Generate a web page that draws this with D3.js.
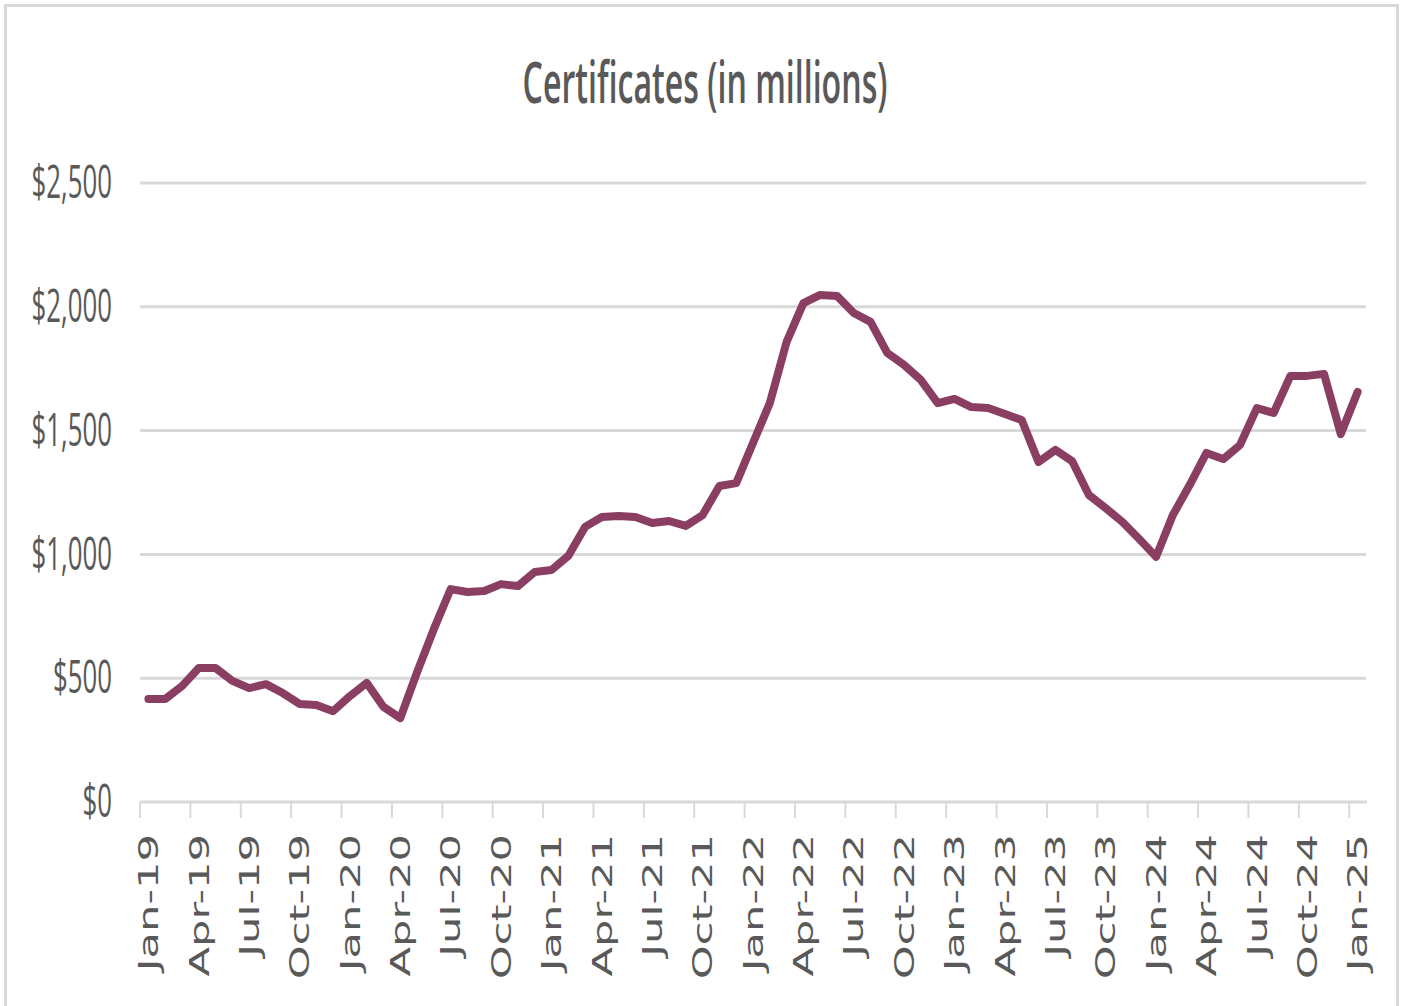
<!DOCTYPE html>
<html>
<head>
<meta charset="utf-8">
<script src="https://cdn.jsdelivr.net/npm/d3@7"></script>
<style>
  html, body { margin: 0; padding: 0; background: #ffffff; }
  svg { display: block; }
</style>
</head>
<body>
<svg id="chart" width="1409" height="1006"></svg>
<script>
// Monthly balances of certificates, Jan-19 through Jan-25 (in millions of dollars)
const months = [
  "Jan-19","Feb-19","Mar-19","Apr-19","May-19","Jun-19","Jul-19","Aug-19","Sep-19","Oct-19","Nov-19","Dec-19",
  "Jan-20","Feb-20","Mar-20","Apr-20","May-20","Jun-20","Jul-20","Aug-20","Sep-20","Oct-20","Nov-20","Dec-20",
  "Jan-21","Feb-21","Mar-21","Apr-21","May-21","Jun-21","Jul-21","Aug-21","Sep-21","Oct-21","Nov-21","Dec-21",
  "Jan-22","Feb-22","Mar-22","Apr-22","May-22","Jun-22","Jul-22","Aug-22","Sep-22","Oct-22","Nov-22","Dec-22",
  "Jan-23","Feb-23","Mar-23","Apr-23","May-23","Jun-23","Jul-23","Aug-23","Sep-23","Oct-23","Nov-23","Dec-23",
  "Jan-24","Feb-24","Mar-24","Apr-24","May-24","Jun-24","Jul-24","Aug-24","Sep-24","Oct-24","Nov-24","Dec-24",
  "Jan-25"
];

const certificates = [
  416, 416, 468, 541, 541, 489, 460, 476, 440, 396, 392, 367,
  428, 481, 384, 339, 525, 699, 860, 848, 852, 880, 872, 929,
  937, 994, 1111, 1151, 1155, 1151, 1127, 1135, 1115, 1159, 1276, 1288,
  1450, 1611, 1858, 2015, 2048, 2044, 1975, 1939, 1813, 1765, 1704, 1611,
  1628, 1595, 1591, 1567, 1543, 1373, 1422, 1377, 1240, 1187, 1131, 1062,
  990, 1159, 1280, 1410, 1385, 1442, 1591, 1571, 1721, 1721, 1729, 1486,
  1656
];

// Quarterly month labels shown on the category axis
const xTickLabels = months.filter((d, i) => i % 3 === 0);

// Value axis ticks
const yTicks = [0, 500, 1000, 1500, 2000, 2500];

const titleText = "Certificates (in millions)";

const svg = d3.select("#chart");
const grey = "#d9d9d9";
const textColor = "#595959";
const lineColor = "#8a3e62";

// Outer chart frame
svg.append("rect")
  .attr("x", 5.5).attr("y", 5.5)
  .attr("width", 1392).attr("height", 1010)
  .attr("fill", "#ffffff")
  .attr("stroke", grey)
  .attr("stroke-width", 3);

const plot = { left: 140, right: 1366, top: 183, bottom: 802 };

const x = d3.scaleBand()
  .domain(months)
  .range([plot.left, plot.right])
  .paddingInner(0)
  .paddingOuter(0);

const y = d3.scaleLinear()
  .domain([0, 2500])
  .range([plot.bottom, plot.top]);

// Horizontal gridlines
svg.append("g")
  .selectAll("line")
  .data(yTicks.filter(d => d > 0))
  .join("line")
  .attr("x1", plot.left)
  .attr("x2", plot.right)
  .attr("y1", d => y(d))
  .attr("y2", d => y(d))
  .attr("stroke", grey)
  .attr("stroke-width", 3);

// Value labels (tall, narrow lettering)
const fmt = d3.format("$,");
svg.append("g")
  .selectAll("text")
  .data(yTicks)
  .join("text")
  .attr("transform", d => `translate(112,${y(d) - 1}) scale(1,1.75)`)
  .attr("text-anchor", "end")
  .attr("dy", "0.36em")
  .attr("font-family", "'Open Sans', sans-serif")
  .attr("font-size", 25.8)
  .attr("fill", textColor)
  .text(d => fmt(d));

// Category axis line and tick marks at quarter boundaries
svg.append("line")
  .attr("x1", plot.left)
  .attr("x2", plot.right + 1)
  .attr("y1", y(0))
  .attr("y2", y(0))
  .attr("stroke", grey)
  .attr("stroke-width", 3);

svg.append("g")
  .selectAll("line")
  .data(xTickLabels)
  .join("line")
  .attr("x1", d => x(d))
  .attr("x2", d => x(d))
  .attr("y1", y(0))
  .attr("y2", y(0) + 16)
  .attr("stroke", grey)
  .attr("stroke-width", 2);

// Rotated quarter labels
svg.append("g")
  .selectAll("text")
  .data(xTickLabels)
  .join("text")
  .attr("transform", d => `translate(${x(d) + x.bandwidth() / 2},834) rotate(-90) scale(1.6,1)`)
  .attr("text-anchor", "end")
  .attr("dy", "0.36em")
  .attr("font-family", "'DejaVu Sans', Verdana, sans-serif")
  .attr("font-size", 27)
  .attr("fill", textColor)
  .text(d => d);

// Data line
const line = d3.line()
  .x((d, i) => x(months[i]) + x.bandwidth() / 2)
  .y(d => y(d))
  .curve(d3.curveLinear);

svg.append("path")
  .datum(certificates)
  .attr("d", line)
  .attr("fill", "none")
  .attr("stroke", lineColor)
  .attr("stroke-width", 8)
  .attr("stroke-linejoin", "round")
  .attr("stroke-linecap", "round");

// Title, condensed and tall
const title = svg.append("text")
  .attr("text-anchor", "middle")
  .attr("font-family", "'Open Sans', sans-serif")
  .attr("font-weight", 600)
  .attr("font-size", 33)
  .attr("fill", textColor)
  .text(titleText);
const titleLen = title.node().getComputedTextLength();
const sx = 365 / titleLen;
title.attr("transform", `translate(705,103) scale(${sx},1.78)`);
</script>
</body>
</html>
